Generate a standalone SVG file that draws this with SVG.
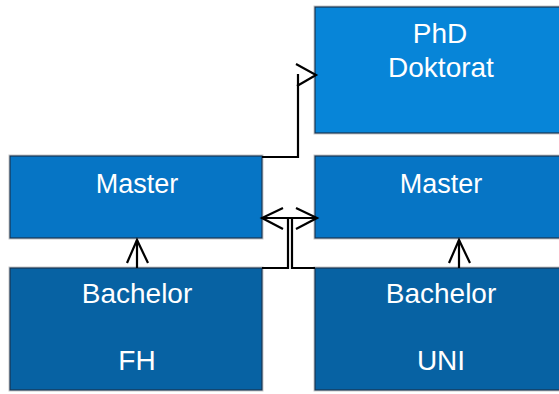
<svg xmlns="http://www.w3.org/2000/svg" width="559" height="394" viewBox="0 0 559 394">
<style>
.box{stroke:#1a3450;stroke-width:1.2}
.phd{fill:#0785D8}
.master{fill:#0675C5}
.bach{fill:#0762A3}
.shadow{fill:none;stroke:#c8c8c8;stroke-width:1}
text{font-family:"Liberation Sans",Arial,sans-serif;font-size:28px;fill:#ffffff;text-anchor:middle}
text.m{font-size:27px}
.conn{fill:none;stroke:#000000;stroke-width:2.2}
</style>
<rect width="559" height="394" fill="#ffffff"/>
<g id="phd">
<rect class="shadow" x="314" y="6" width="252" height="128"/>
<rect class="box phd" x="315" y="7" width="250" height="126"/>
<text x="440" y="43">PhD</text>
<text x="441" y="77">Doktorat</text>
</g>
<g id="master-fh">
<rect class="shadow" x="9" y="155" width="254" height="84"/>
<rect class="box master" x="10" y="156" width="252" height="82"/>
<text class="m" x="137" y="193">Master</text>
</g>
<g id="master-uni">
<rect class="shadow" x="314" y="155" width="252" height="84"/>
<rect class="box master" x="315" y="156" width="250" height="82"/>
<text class="m" x="441" y="193">Master</text>
</g>
<g id="bachelor-fh">
<rect class="shadow" x="9" y="267" width="254" height="124"/>
<rect class="box bach" x="10" y="268" width="252" height="122"/>
<text x="137" y="303">Bachelor</text>
<text x="137" y="370">FH</text>
</g>
<g id="bachelor-uni">
<rect class="shadow" x="314" y="267" width="252" height="124"/>
<rect class="box bach" x="315" y="268" width="250" height="122"/>
<text x="441" y="303">Bachelor</text>
<text x="441" y="370">UNI</text>
</g>
<g id="connectors">
<path class="conn" d="M262,157 H298 V74"/>
<polyline class="conn" points="296,64 316,75 297,86"/>
<path class="conn" d="M262,268 H288 V218 H317"/>
<path class="conn" d="M315,268 H292 V218 H262"/>
<polyline class="conn" points="283,208 262,218 283,229"/>
<polyline class="conn" points="296,208 317,218 296,229"/>
<path class="conn" d="M137,268 V240"/>
<polyline class="conn" points="127,263 137,240 148,263"/>
<path class="conn" d="M459,268 V240"/>
<polyline class="conn" points="449,263 459,240 470,263"/>
</g>
</svg>
